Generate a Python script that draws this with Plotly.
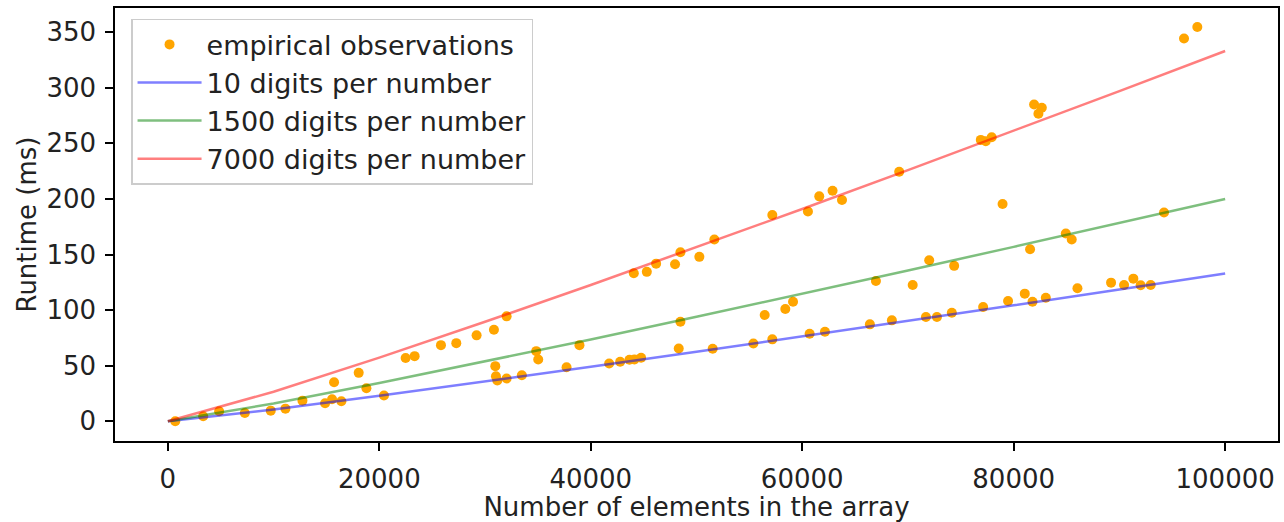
import plotly.graph_objects as go

# empirical observations (x: number of elements, y: runtime ms)
obs_x = [700, 3340, 4850, 7280, 9730, 11120, 12730, 14870, 15530, 15720, 16410, 18050,
         18780, 20440, 22490, 23340, 25830, 27280, 29200, 30840, 32040, 30970, 31030, 31160,
         32040, 33480, 34840, 35030, 37710, 38930, 41740, 42780, 43660, 44130, 44760, 44070,
         45300, 46180, 47970, 48480, 50270, 51690, 48480, 48320, 51530, 55380, 57170, 56450,
         58400, 59130, 57170, 60540, 61610, 62870, 63760, 60700, 62150, 66400, 66970, 69170,
         68480, 70450, 72010, 71700, 72740, 74150, 74370, 77110, 76890, 77360, 77920, 78950,
         79470, 81050, 81780, 83040, 81550, 81930, 82660, 82340, 84930, 85490, 86030, 96110,
         97370, 94220, 89210, 90440, 91320, 92010, 92960]
obs_y = [0, 4.5, 9, 7.5, 9.6, 11.4, 18.6, 16.2, 19.8, 35.2, 18, 43.6,
         29.8, 23.2, 57, 58.6, 68.5, 70.3, 77.3, 82.3, 94.4, 49.6, 40.6, 36.7,
         38.5, 41.5, 63.1, 55.6, 48.7, 68.5, 52, 53.5, 55.3, 55.6, 57.1, 133.2,
         134.4, 141.8, 141.3, 152.1, 147.9, 163.5, 89.5, 65.5, 65.2, 70, 73.7, 95.6,
         101, 107.6, 185.5, 188.7, 202.3, 207.4, 199, 78.7, 80.5, 87.2, 126.2, 224.5,
         90.8, 122.6, 144.9, 93.8, 93.8, 97.7, 139.8, 102.8, 253.1, 251.9, 255.5, 195.4,
         108.2, 114.8, 107.6, 111.2, 154.8, 284.9, 282, 276.6, 168.9, 163.5, 119.7, 344.2,
         354.6, 187.8, 124.7, 122.6, 128.3, 122.4, 122.6]

# model curves
curve_x = [0, 10000, 20000, 30000, 40000, 50000, 60000, 70000, 80000, 90000, 100000]
y_10 = [0, 10.6, 22.9, 35.7, 49.0, 62.5, 76.3, 90.2, 104.3, 118.6, 133.0]
y_1500 = [0, 16.0, 34.4, 53.7, 73.6, 94.0, 114.7, 135.7, 156.9, 178.4, 200.0]
y_7000 = [0, 26.6, 57.3, 89.5, 122.6, 156.5, 190.9, 225.9, 261.2, 297.0, 333.0]

x_ticks = [0, 20000, 40000, 60000, 80000, 100000]
y_ticks = [0, 50, 100, 150, 200, 250, 300, 350]

FONT = "DejaVu Sans"
FS = 26
TXT = "#222222"

fig = go.Figure()
fig.add_trace(go.Scatter(x=obs_x, y=obs_y, mode="markers", name="empirical observations",
                         marker=dict(color="orange", size=10, line=dict(width=0))))
fig.add_trace(go.Scatter(x=curve_x, y=y_10, mode="lines", name="10 digits per number",
                         line=dict(color="blue", width=2.5), opacity=0.5))
fig.add_trace(go.Scatter(x=curve_x, y=y_1500, mode="lines", name="1500 digits per number",
                         line=dict(color="green", width=2.5), opacity=0.5))
fig.add_trace(go.Scatter(x=curve_x, y=y_7000, mode="lines", name="7000 digits per number",
                         line=dict(color="red", width=2.5), opacity=0.5))

axis_common = dict(showgrid=False, zeroline=False, showline=True, linecolor="black",
                   linewidth=1.5, mirror=True, ticks="outside", ticklen=8, tickwidth=1.5,
                   tickcolor="black", automargin=False,
                   tickfont=dict(family=FONT, size=FS, color=TXT))

fig.update_layout(
    width=1284, height=522,
    margin=dict(l=115, r=6, t=8, b=81),
    plot_bgcolor="white", paper_bgcolor="white",
    font=dict(family=FONT, size=FS, color=TXT),
    xaxis=dict(range=[-5000, 105000], tickvals=x_ticks, ticktext=[str(v) for v in x_ticks],
               ticklabelstandoff=6,
               title=dict(text="Number of elements in the array",
                          font=dict(family=FONT, size=FS, color=TXT), standoff=4),
               **axis_common),
    yaxis=dict(range=[-17.7, 371.7], tickvals=y_ticks, ticktext=[str(v) for v in y_ticks],
               ticklabelstandoff=4,
               title=dict(text="Runtime (ms)", font=dict(family=FONT, size=FS, color=TXT),
                          standoff=2),
               **axis_common),
    legend=dict(x=0.0138, y=0.975, xanchor="left", yanchor="top",
                bgcolor="rgba(255,255,255,0.8)", bordercolor="#cccccc", borderwidth=1.5,
                font=dict(family=FONT, size=27, color=TXT), itemwidth=64),
    showlegend=True,
)

fig.write_html("out.html", config={"displayModeBar": False},
               post_script="document.body.style.margin='0';document.body.style.padding='0';")
